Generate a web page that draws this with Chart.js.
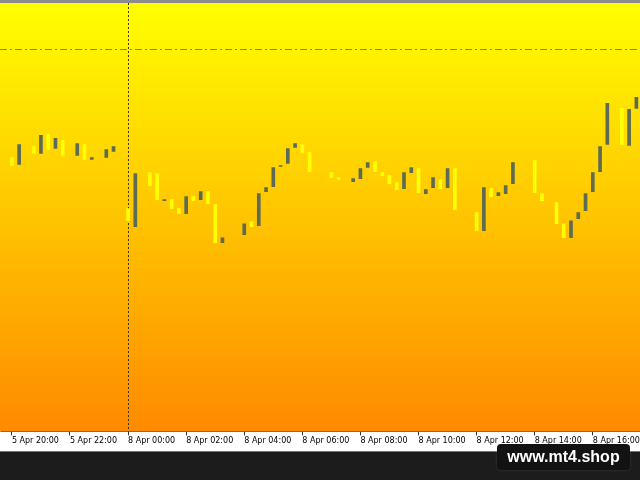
<!DOCTYPE html>
<html>
<head>
<meta charset="utf-8">
<script src="https://cdn.jsdelivr.net/npm/chart.js@4/dist/chart.umd.min.js"></script>
<style>
    html, body { margin: 0; padding: 0; background: #1c1c1c; }
    #wrap { position: relative; width: 640px; height: 480px; }
    #mark {
        position: absolute; left: 497px; top: 444px; width: 133px; height: 26px;
        background: #121212; border-radius: 4px; box-shadow: 0 0 3px rgba(255,255,255,0.15);
        color: #fff; font: bold 16px 'Liberation Sans', Arial, sans-serif;
        line-height: 26px; text-align: center;
    }
</style>
</head>
<body>
<div id="wrap">
    <canvas id="chart" width="640" height="480"></canvas>
    <div id="mark">www.mt4.shop</div>
</div>
<script>
    // M15 sessions (weekend gap between 5 Apr and 8 Apr)
    const sessions = [
        { day: '5 Apr', start: '19:45', bars: 17 },
        { day: '8 Apr', start: '00:00', bars: 71 }
    ];

    const opens = [
        270, 273, 266, 284, 284, 277, 296, 282,
        290, 276, 275, 286, 271, 272, 273, 279,
        283, 222, 204, 256, 258, 257, 230, 231,
        222, 217, 234, 231, 239, 226, 188, 193,
        192, 196, 209, 205, 239, 244, 264, 267,
        283, 286, 278, 259, 258, 258, 253, 251,
        249, 252, 263, 269, 258, 255, 248, 242,
        258, 262, 237, 243, 251, 243, 262, 220,
        219, 218, 200, 242, 235, 237, 247, 268,
        269, 270, 237, 229, 228, 207, 193, 212,
        220, 239, 259, 286, 322, 322, 285, 322
    ];

    const closes = [
        270, 265, 286, 284, 277, 295, 281, 292,
        275, 276, 287, 271, 273, 272, 281, 284,
        283, 210, 257, 256, 245, 231, 231, 222,
        217, 234, 230, 239, 227, 188, 193, 193,
        192, 207, 204, 237, 243, 263, 265, 282,
        287, 278, 259, 259, 258, 253, 251, 251,
        252, 262, 268, 259, 255, 247, 241, 258,
        263, 238, 241, 253, 242, 262, 221, 220,
        219, 200, 243, 234, 238, 245, 268, 268,
        269, 238, 230, 229, 207, 193, 210, 218,
        237, 258, 284, 327, 322, 286, 321, 333
    ];

    const tickLabels = [
        '5 Apr 20:00', '5 Apr 22:00', '8 Apr 00:00', '8 Apr 02:00', '8 Apr 04:00', '8 Apr 06:00',
        '8 Apr 08:00', '8 Apr 10:00', '8 Apr 12:00', '8 Apr 14:00', '8 Apr 16:00'
    ];

    const levelPrice = 381;
    const separatorLabel = '8 Apr 00:00';

    // bar times
    const times = [];
    sessions.forEach(s => {
        let [h, m] = s.start.split(':').map(Number);
        for (let i = 0; i < s.bars; i++) {
            times.push(s.day + ' ' + String(h).padStart(2, '0') + ':' + String(m).padStart(2, '0'));
            m += 15;
            if (m === 60) { m = 0; h++; }
        }
    });

    const bodies = opens.map((o, i) => [o, closes[i]]);
    // bull grey, bear yellow, doji invisible (wicks are background coloured)
    const bodyColors = opens.map((o, i) =>
        closes[i] > o ? '#5d6b52' : (closes[i] < o ? '#ffff00' : 'rgba(0,0,0,0)'));

    const mt4Background = {
        id: 'mt4Background',
        beforeDraw(chart) {
            const { ctx, chartArea: a, width } = chart;
            ctx.save();
            ctx.fillStyle = '#1c1c1c';
            ctx.fillRect(0, 0, width, chart.height);
            ctx.fillStyle = '#ffffff';
            ctx.fillRect(0, a.bottom, width, 20);
            ctx.fillStyle = '#8c8c8c';
            ctx.fillRect(0, 0, width, a.top);
            const g = ctx.createLinearGradient(0, a.top, 0, a.bottom);
            g.addColorStop(0, '#ffff00');
            g.addColorStop(1, '#ff8a00');
            ctx.fillStyle = g;
            ctx.fillRect(0, a.top, width, a.bottom - a.top);
            ctx.restore();
        },
        beforeDatasetsDraw(chart) {
            const { ctx, chartArea: a, scales } = chart;
            ctx.save();
            // horizontal level
            const y = Math.round(scales.y.getPixelForValue(levelPrice)) + 0.5;
            ctx.strokeStyle = '#b07a10';
            ctx.lineWidth = 1;
            ctx.setLineDash([7, 3, 2, 3]);
            ctx.beginPath();
            ctx.moveTo(0, y);
            ctx.lineTo(chart.width, y);
            ctx.stroke();
            // period separator
            const x = Math.round(scales.x.getPixelForValue(times.indexOf(separatorLabel))) + 0.5;
            ctx.strokeStyle = '#3a3200';
            ctx.setLineDash([2, 2]);
            ctx.beginPath();
            ctx.moveTo(x, a.top);
            ctx.lineTo(x, a.bottom);
            ctx.stroke();
            ctx.restore();
        }
    };

    new Chart(document.getElementById('chart').getContext('2d'), {
        type: 'bar',
        data: {
            labels: times,
            datasets: [{
                data: bodies,
                backgroundColor: bodyColors,
                borderWidth: 0,
                barThickness: 3
            }]
        },
        options: {
            responsive: false,
            animation: false,
            layout: { padding: { left: 1, right: 0, top: 3, bottom: 33 } },
            plugins: {
                legend: { display: false },
                tooltip: { enabled: false }
            },
            scales: {
                x: {
                    offset: true,
                    border: { display: true, color: '#6e6e6e' },
                    grid: {
                        offset: false,
                        drawOnChartArea: false,
                        drawTicks: true,
                        tickLength: 4,
                        color: ctx => tickLabels.includes(times[ctx.index]) ? '#333' : 'rgba(0,0,0,0)'
                    },
                    ticks: {
                        autoSkip: false,
                        maxRotation: 0,
                        minRotation: 0,
                        align: 'start',
                        padding: 1,
                        color: '#000',
                        font: { family: 'DejaVu Sans', size: 8 },
                        callback: function(val) {
                            const l = this.getLabelForValue(val);
                            return tickLabels.includes(l) ? l : '';
                        }
                    }
                },
                y: {
                    display: false,
                    min: 0,
                    max: 427
                }
            }
        },
        plugins: [mt4Background]
    });
</script>
</body>
</html>
